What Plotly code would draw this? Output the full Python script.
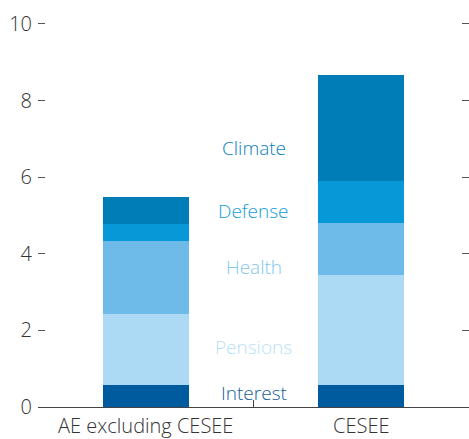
import plotly.graph_objects as go

categories = ["AE excluding CESEE", "CESEE"]
series_names = ["Interest", "Pensions", "Health", "Defense", "Climate"]
interest = [0.57, 0.57]
pensions = [1.86, 2.88]
health = [1.91, 1.35]
defense = [0.44, 1.10]
climate = [0.71, 2.77]
y_ticks = [0, 2, 4, 6, 8, 10]
boundary_ticks = [-0.5, 0.5, 1.5]

# label positions (value axis) for the in-chart series names
label_y = [0.37, 1.57, 3.66, 5.12, 6.76]

bar_colors = ["#005a9e", "#acdaf4", "#6ebbe9", "#0798d8", "#007cb6"]
text_colors = ["#16609d", "#b8e0f7", "#84c6ee", "#129ddc", "#0c80bd"]

values = [interest, pensions, health, defense, climate]
FAMILY = "Open Sans"

fig = go.Figure()
for name, vals, col in zip(series_names, values, bar_colors):
    fig.add_trace(go.Bar(
        x=[0, 1], y=vals, name=name,
        marker=dict(color=col, line=dict(width=0)),
        width=0.4, hoverinfo="skip",
    ))

# invisible trace so the boundary-tick axis is drawn
fig.add_trace(go.Scatter(x=[0], y=[0], xaxis="x2", mode="markers",
                         marker=dict(opacity=0), hoverinfo="skip",
                         showlegend=False))

for name, yv, col in zip(series_names, label_y, text_colors):
    fig.add_annotation(
        x=0.5, y=yv, xref="x", yref="y", text=name, showarrow=False,
        font=dict(family=FAMILY, size=19, color=col, weight=300),
    )

tick_font = dict(family=FAMILY, size=20, color="#333333", weight=300)
fig.update_layout(
    barmode="stack",
    width=469, height=439,
    margin=dict(l=38, r=0, t=12, b=32, autoexpand=False),
    paper_bgcolor="white", plot_bgcolor="white",
    showlegend=False,
    xaxis=dict(
        range=[-0.5, 1.5], tickvals=[0, 1], ticktext=categories,
        ticks="", showline=True, linecolor="#444444", linewidth=1.2,
        showgrid=False, zeroline=False, tickfont=tick_font,
        ticklabelstandoff=1, automargin=False,
    ),
    xaxis2=dict(
        overlaying="x", anchor="y", side="bottom",
        range=[-0.5, 1.5], tickvals=boundary_ticks, showticklabels=False,
        ticks="inside", ticklen=7, tickcolor="#444444", tickwidth=1,
        showline=False, showgrid=False, zeroline=False, automargin=False,
    ),
    yaxis=dict(
        range=[0, 10.31], tickvals=y_ticks,
        ticks="inside", ticklen=7, tickcolor="#555555", tickwidth=1,
        mirror="ticks", showline=False,
        showgrid=False, zeroline=False, automargin=False,
        tickfont=tick_font, ticklabelstandoff=5,
    ),
)

fig.write_html("out.html")
